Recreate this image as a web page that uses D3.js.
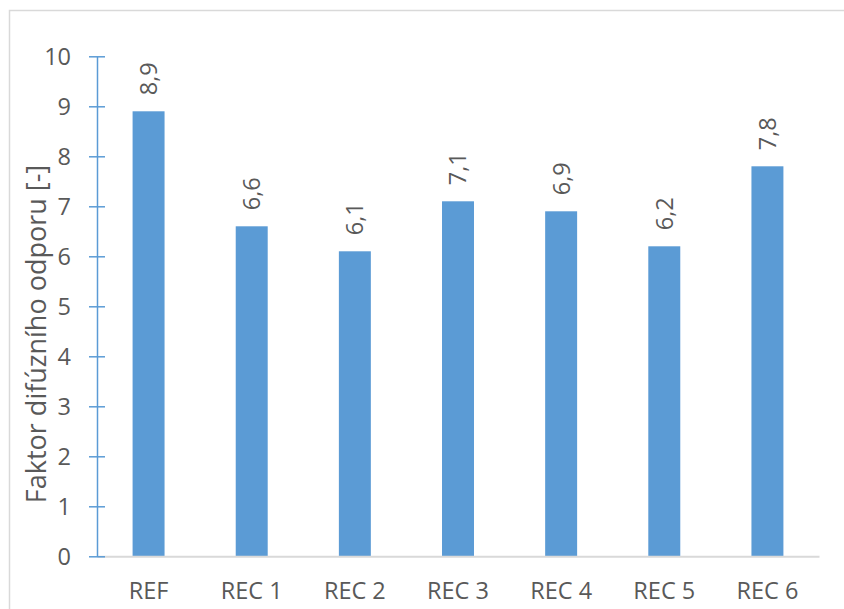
<!DOCTYPE html>
<html>
<head>
<meta charset="utf-8">
<script src="https://cdn.jsdelivr.net/npm/d3@7"></script>
<style>
  html, body { margin: 0; padding: 0; background: #fff; }
  svg { display: block; }
  text { font-family: "Open Sans", sans-serif; fill: #595959; }
</style>
</head>
<body>
<svg id="chart" width="844" height="609"></svg>
<script>
// Diffusion resistance factor per mixture
const categories = ["REF", "REC 1", "REC 2", "REC 3", "REC 4", "REC 5", "REC 6"];
const values = [8.9, 6.6, 6.1, 7.1, 6.9, 6.2, 7.8];
const yTicks = [0, 1, 2, 3, 4, 5, 6, 7, 8, 9, 10];
const yTitle = "Faktor difúzního odporu [-]";

const svg = d3.select("#chart");
const barColor = "#5b9bd5";
const fontSize = 23.5;
const titleSize = 27;

// chart frame (runs off the right and bottom edges)
svg.append("rect")
  .attr("x", 9.5).attr("y", 10.5)
  .attr("width", 900).attr("height", 700)
  .attr("fill", "#fff")
  .attr("stroke", "#d9d9d9")
  .attr("stroke-width", 1.5);

const plot = { left: 97, right: 819, top: 56.3, bottom: 556.3 };

const x = d3.scaleBand()
  .domain(categories)
  .range([plot.left, plot.right])
  .paddingInner(0.69)
  .paddingOuter(0.345);

const y = d3.scaleLinear()
  .domain([0, 10])
  .range([plot.bottom, plot.top]);

// bars
svg.append("g")
  .selectAll("rect")
  .data(values)
  .join("rect")
  .attr("x", (d, i) => x(categories[i]))
  .attr("y", d => y(d))
  .attr("width", x.bandwidth())
  .attr("height", d => y(0) - y(d))
  .attr("fill", barColor);

// x axis
const xAxis = svg.append("g")
  .attr("transform", `translate(0,${plot.bottom})`)
  .call(d3.axisBottom(x).tickSize(0).tickPadding(0));
xAxis.select(".domain")
  .attr("stroke", "#d9d9d9")
  .attr("stroke-width", 2);
xAxis.selectAll(".tick text")
  .attr("y", 43)
  .attr("dy", 0)
  .style("font-size", fontSize + "px")
  .style("font-family", "'Open Sans', sans-serif")
  .attr("fill", "#595959");

// y axis
const yAxis = svg.append("g")
  .attr("transform", `translate(${plot.left},0)`)
  .call(d3.axisLeft(y).tickValues(yTicks).tickFormat(d3.format("d"))
    .tickSizeInner(0).tickSizeOuter(0).tickPadding(26));
yAxis.select(".domain")
  .attr("stroke", barColor)
  .attr("stroke-width", 1.5);
yAxis.selectAll(".tick line")
  .attr("x1", -8).attr("x2", 8)
  .attr("stroke", barColor)
  .attr("stroke-width", 1.5);
yAxis.selectAll(".tick text")
  .attr("dy", "0.36em")
  .style("font-size", fontSize + "px")
  .style("font-family", "'Open Sans', sans-serif")
  .attr("fill", "#595959");

// axis title
svg.append("text")
  .attr("transform", `translate(46,334) rotate(-90)`)
  .attr("text-anchor", "middle")
  .style("font-size", titleSize + "px")
  .text(yTitle);

// value labels above bars
svg.append("g")
  .selectAll("text")
  .data(values)
  .join("text")
  .attr("transform", (d, i) =>
    `translate(${x(categories[i]) + x.bandwidth() / 2},${y(d) - 16}) rotate(-90)`)
  .attr("text-anchor", "start")
  .attr("dy", "0.36em")
  .style("font-size", fontSize + "px")
  .text(d => d3.format(".1f")(d).replace(".", ","));
</script>
</body>
</html>
